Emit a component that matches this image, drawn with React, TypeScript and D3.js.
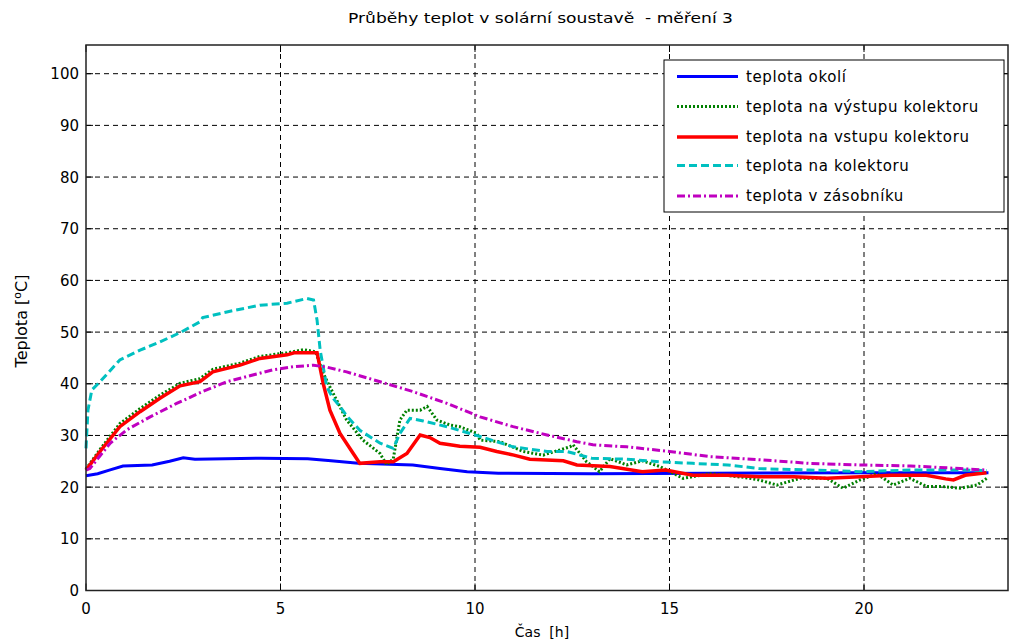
import React from "react";
import * as d3 from "d3";

const title = "Průběhy teplot v solární soustavě\u00a0 - měření 3";
const xTicks = [0, 5, 10, 15, 20];
const yTicks = [0, 10, 20, 30, 40, 50, 60, 70, 80, 90, 100];

const ambient: [number, number][] = [
  [0, 22.2], [0.3, 22.6], [0.6, 23.3], [0.95, 24.1], [1.7, 24.3], [2.15, 25.0], [2.5, 25.7], [2.8, 25.4],
  [4.5, 25.6], [5.7, 25.5], [6.3, 25.1], [7.0, 24.6], [8.4, 24.3], [9.1, 23.6], [9.8, 23.0], [10.6, 22.7],
  [13, 22.6], [16, 22.7], [20, 22.8], [23.2, 22.8],
];

const outlet: [number, number][] = [
  [0, 23.5], [0.36, 27.3], [0.87, 32.3], [1.39, 35.2], [1.9, 37.8], [2.42, 40.1], [2.93, 41.0], [3.26, 42.8],
  [3.96, 44.0], [4.47, 45.3], [5.17, 46.0], [5.6, 46.6], [5.9, 46.2], [6.1, 42], [6.27, 39.4], [6.7, 33.0],
  [7.12, 29.1], [7.56, 26.5], [7.73, 24.3], [7.9, 25.5], [8.07, 33.0], [8.25, 34.9], [8.59, 34.9], [8.77, 35.6],
  [9.02, 33.0], [9.36, 32.0], [9.61, 31.7], [10.05, 30.4], [10.13, 29.1], [10.64, 28.8], [11.24, 26.9],
  [11.75, 26.2], [12.44, 27.8], [12.52, 28.2], [12.87, 24.9], [13.2, 23.0], [13.47, 25.5], [13.9, 24.3],
  [14.3, 25.1], [14.75, 24.0], [15.35, 21.7], [16.04, 22.6], [16.9, 21.9], [17.3, 21.4], [17.76, 20.4],
  [18.35, 21.7], [19.05, 21.7], [19.46, 19.8], [19.9, 21.4], [20.33, 22.6], [20.75, 20.4], [21.18, 21.7],
  [21.62, 20.1], [22.03, 20.1], [22.47, 19.8], [22.9, 20.4], [23.16, 21.7],
];

const inlet: [number, number][] = [
  [0, 23.3], [0.36, 26.9], [0.87, 31.7], [1.39, 34.6], [1.9, 37.2], [2.42, 39.6], [2.93, 40.4], [3.26, 42.3],
  [3.96, 43.6], [4.47, 44.9], [5.17, 45.6], [5.35, 46.0], [5.94, 46.0], [6.1, 40.0], [6.27, 34.9], [6.53, 30.4],
  [6.87, 26.5], [7.04, 24.6], [7.56, 24.9], [7.9, 24.9], [8.25, 26.5], [8.59, 30.1], [8.84, 29.6], [9.1, 28.5],
  [9.36, 28.2], [9.61, 27.9], [10.13, 27.7], [10.56, 26.9], [11.0, 26.2], [11.41, 25.4], [12.27, 25.1],
  [12.62, 24.3], [13.47, 24.0], [14.3, 23.0], [14.9, 23.3], [15.6, 22.3], [16.5, 22.3], [17.3, 22.0],
  [18.2, 22.0], [19.05, 21.7], [19.9, 22.0], [20.7, 22.3], [21.6, 22.3], [22.1, 21.6], [22.3, 21.4],
  [22.6, 22.3], [23.15, 22.8],
];

const collector: [number, number][] = [
  [0, 27.5], [0.05, 34.9], [0.15, 38.8], [0.36, 40.4], [0.87, 44.6], [1.39, 46.5], [1.9, 48.1], [2.42, 49.9],
  [2.93, 52.0], [3.0, 52.8], [3.62, 53.9], [4.47, 55.2], [5.17, 55.6], [5.68, 56.5], [5.85, 56.2], [5.94, 52.3],
  [6.02, 46.5], [6.19, 39.4], [6.35, 37.2], [6.53, 35.6], [6.7, 33.8], [7.04, 31.0], [7.56, 28.5], [7.9, 27.5],
  [8.07, 30.4], [8.33, 33.3], [8.67, 32.8], [9.28, 31.7], [10.13, 29.8], [10.98, 27.8], [11.85, 26.9],
  [12.36, 26.9], [13.0, 25.6], [13.9, 25.4], [14.75, 24.9], [15.6, 24.6], [16.5, 24.3], [17.3, 23.6],
  [18.6, 23.3], [19.9, 23.0], [21.2, 23.3], [22.5, 23.3], [23.16, 23.2],
];

const storage: [number, number][] = [
  [0, 23.3], [0.1, 23.6], [0.62, 28.5], [1.05, 31.1], [1.65, 33.6], [2.33, 36.2], [3.0, 38.5], [3.62, 40.4],
  [4.13, 41.4], [4.8, 42.7], [5.33, 43.3], [5.85, 43.6], [6.2, 43.2], [6.7, 42.3], [7.56, 40.4], [8.4, 38.5],
  [9.28, 36.2], [10.13, 33.6], [10.98, 31.7], [11.85, 30.1], [12.62, 28.8], [13.03, 28.2], [13.9, 27.8],
  [15.0, 26.9], [16.04, 25.9], [17.33, 25.3], [18.6, 24.6], [19.9, 24.3], [21.2, 24.1], [22.47, 23.6],
  [23.16, 23.3],
];

const seriesNames = [
  "teplota okolí",
  "teplota na výstupu kolektoru",
  "teplota na vstupu kolektoru",
  "teplota na kolektoru",
  "teplota v zásobníku",
];

const seriesStyles = [
  { color: "#0000ff", width: 3, dash: "none" },
  { color: "#008000", width: 3, dash: "2,2" },
  { color: "#ff0000", width: 3.5, dash: "none" },
  { color: "#00c0c0", width: 3, dash: "8,4" },
  { color: "#c000c0", width: 3, dash: "8,3,2,3" },
];

const seriesData = [ambient, outlet, inlet, collector, storage];

const L = 86, R = 1008, T = 45, B = 590.5;

export default function App() {
  const x = d3.scaleLinear().domain([0, (R - L) / 38.9]).range([L, R]);
  const y = d3.scaleLinear().domain([0, (B - T) / 5.168]).range([B, T]);
  const line = d3.line<[number, number]>().x((d) => x(d[0])).y((d) => y(d[1]));
  const font = "DejaVu Sans, sans-serif";
  const legendX = 664, legendY = 60, legendW = 340, legendH = 152;
  const rowY = [76.5, 106.5, 137, 165.5, 196];

  return (
    <svg width={1011} height={644} style={{ position: "absolute", left: 0, top: 0, background: "#fff" }}>
      <rect x={0} y={0} width={1011} height={644} fill="#fff" />
      <text x={348} y={23} textLength={385} lengthAdjust="spacingAndGlyphs" fontFamily={font} fontSize={14} fill="#000">
        {title}
      </text>
      {/* grid */}
      {xTicks.filter((t) => t > 0).map((t) => (
        <line key={"gx" + t} x1={x(t)} x2={x(t)} y1={T} y2={B} stroke="#000" strokeWidth={1} strokeDasharray="5,4" />
      ))}
      {yTicks.filter((t) => t > 0).map((t) => (
        <line key={"gy" + t} x1={L} x2={R} y1={y(t)} y2={y(t)} stroke="#000" strokeWidth={1} strokeDasharray="5,4" />
      ))}
      {/* ticks */}
      {xTicks.map((t) => (
        <g key={"tx" + t}>
          <line x1={x(t)} x2={x(t)} y1={B} y2={B - 7} stroke="#000" />
          <line x1={x(t)} x2={x(t)} y1={T} y2={T + 7} stroke="#000" />
          <text x={x(t)} y={B + 23} textAnchor="middle" fontFamily={font} fontSize={15} fill="#000">
            {t}
          </text>
        </g>
      ))}
      {yTicks.map((t) => (
        <g key={"ty" + t}>
          <line x1={L} x2={L + 7} y1={y(t)} y2={y(t)} stroke="#000" />
          <line x1={R} x2={R - 7} y1={y(t)} y2={y(t)} stroke="#000" />
          <text x={79} y={y(t) + 5.5} textAnchor="end" fontFamily={font} fontSize={15} fill="#000">
            {t}
          </text>
        </g>
      ))}
      {/* series */}
      {seriesData.map((d, i) => (
        <path
          key={"s" + i}
          d={line(d) || ""}
          fill="none"
          stroke={seriesStyles[i].color}
          strokeWidth={seriesStyles[i].width}
          strokeDasharray={seriesStyles[i].dash}
          strokeLinejoin="miter"
        />
      ))}
      {/* axes box */}
      <rect x={L} y={T} width={R - L} height={B - T} fill="none" stroke="#222" strokeWidth={1.5} />
      {/* axis labels */}
      <text x={542} y={637} textAnchor="middle" fontFamily={font} fontSize={14} fill="#000">
        {"Čas\u00a0 [h]"}
      </text>
      <text
        transform={`translate(27, 321) rotate(-90)`}
        textAnchor="middle"
        fontFamily={font}
        fontSize={16}
        fill="#000"
      >
        Teplota [<tspan dy={-6} fontSize={11}>o</tspan><tspan dy={6}>C]</tspan>
      </text>
      {/* legend */}
      <rect x={legendX} y={legendY} width={legendW} height={legendH} fill="#fff" stroke="#000" strokeWidth={1} />
      {seriesNames.map((n, i) => (
        <g key={"lg" + i}>
          <line
            x1={677}
            x2={738}
            y1={rowY[i]}
            y2={rowY[i]}
            stroke={seriesStyles[i].color}
            strokeWidth={seriesStyles[i].width}
            strokeDasharray={seriesStyles[i].dash}
          />
          <text x={746} y={rowY[i] + 5} fontFamily={font} fontSize={15} letterSpacing={0.6} fill="#000">
            {n}
          </text>
        </g>
      ))}
    </svg>
  );
}
